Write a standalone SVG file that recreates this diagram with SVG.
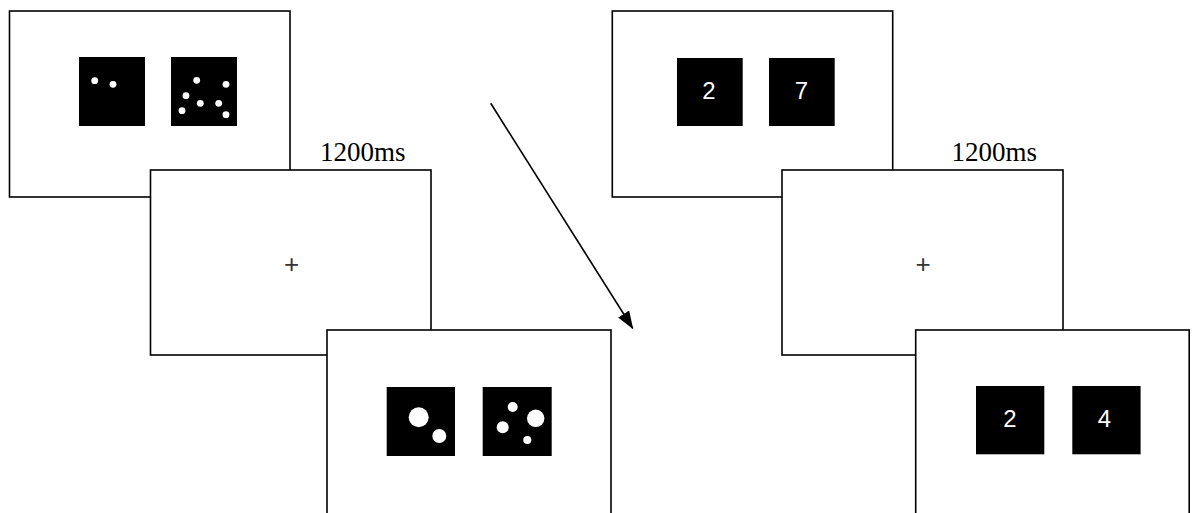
<svg xmlns="http://www.w3.org/2000/svg" width="1192" height="513" viewBox="0 0 1192 513">
  <style>
    .frame { fill: #ffffff; stroke: #000000; stroke-width: 1.6; }
    .stim { fill: #000000; }
    .dot { fill: #ffffff; }
    .digit { font-family: "Liberation Sans", Arial, sans-serif; font-size: 24px; fill: #ffffff; text-anchor: middle; }
    .time { font-family: "Liberation Serif", "Times New Roman", serif; font-size: 27px; fill: #000000; }
    .fix { font-family: "Liberation Sans", Arial, sans-serif; font-size: 26px; fill: #333333; text-anchor: middle; }
  </style>
  <defs>
    <marker id="arrowhead" markerWidth="18" markerHeight="13" refX="17" refY="6.5" orient="auto" markerUnits="userSpaceOnUse" viewBox="0 0 18 13">
      <path d="M0,0 L18,6.5 L0,13 Z" fill="#000000"/>
    </marker>
  </defs>

  <!-- Dot-array sequence -->
  <g id="dots-sample">
    <rect class="frame" x="9.5" y="11" width="280.5" height="186"/>
    <rect class="stim" x="79" y="57" width="66" height="69"/>
    <circle class="dot" cx="94.7" cy="80.7" r="3.4"/>
    <circle class="dot" cx="113" cy="84.3" r="3.4"/>
    <rect class="stim" x="171" y="57" width="66" height="69"/>
    <circle class="dot" cx="196.7" cy="80.3" r="3.4"/>
    <circle class="dot" cx="226" cy="84.3" r="3.4"/>
    <circle class="dot" cx="186" cy="95.7" r="3.4"/>
    <circle class="dot" cx="200.3" cy="103.3" r="3.4"/>
    <circle class="dot" cx="218.7" cy="103.3" r="3.4"/>
    <circle class="dot" cx="182" cy="110.7" r="3.4"/>
    <circle class="dot" cx="226" cy="114.7" r="3.4"/>
  </g>
  <text id="dots-delay" class="time" x="320" y="161">1200ms</text>
  <g id="dots-fixation">
    <rect class="frame" x="150.5" y="170" width="280.5" height="185"/>
    <text class="fix" x="291.7" y="273">+</text>
  </g>
  <g id="dots-probe">
    <rect class="frame" x="327" y="330" width="284" height="190"/>
    <rect class="stim" x="386.7" y="387" width="68.3" height="69"/>
    <circle class="dot" cx="418.7" cy="417.3" r="10"/>
    <circle class="dot" cx="439.3" cy="436" r="7"/>
    <rect class="stim" x="482.7" y="387" width="69" height="69"/>
    <circle class="dot" cx="512.7" cy="407" r="5"/>
    <circle class="dot" cx="535.7" cy="418.3" r="8.7"/>
    <circle class="dot" cx="502.7" cy="427.3" r="6"/>
    <circle class="dot" cx="527.3" cy="440" r="4"/>
  </g>

  <!-- Digit sequence -->
  <g id="digits-sample">
    <rect class="frame" x="612.3" y="11" width="280.4" height="186"/>
    <rect class="stim" x="677" y="58" width="65.7" height="68"/>
    <text class="digit" x="709" y="99">2</text>
    <rect class="stim" x="769" y="58" width="65.7" height="68"/>
    <text class="digit" x="801.5" y="99">7</text>
  </g>
  <text id="digits-delay" class="time" x="951.5" y="161">1200ms</text>
  <g id="digits-fixation">
    <rect class="frame" x="782" y="170" width="281" height="185"/>
    <text class="fix" x="923" y="273">+</text>
  </g>
  <g id="digits-probe">
    <rect class="frame" x="915.7" y="330" width="273.5" height="190"/>
    <rect class="stim" x="976" y="386" width="68.3" height="68.3"/>
    <text class="digit" x="1010" y="427">2</text>
    <rect class="stim" x="1072.3" y="386" width="68.3" height="68.3"/>
    <text class="digit" x="1104.5" y="427">4</text>
  </g>

  <!-- Connectors -->
  <g id="connectors">
    <line x1="490.7" y1="103.3" x2="632.7" y2="328.3" stroke="#000000" stroke-width="1.6" marker-end="url(#arrowhead)"/>
  </g>
</svg>
